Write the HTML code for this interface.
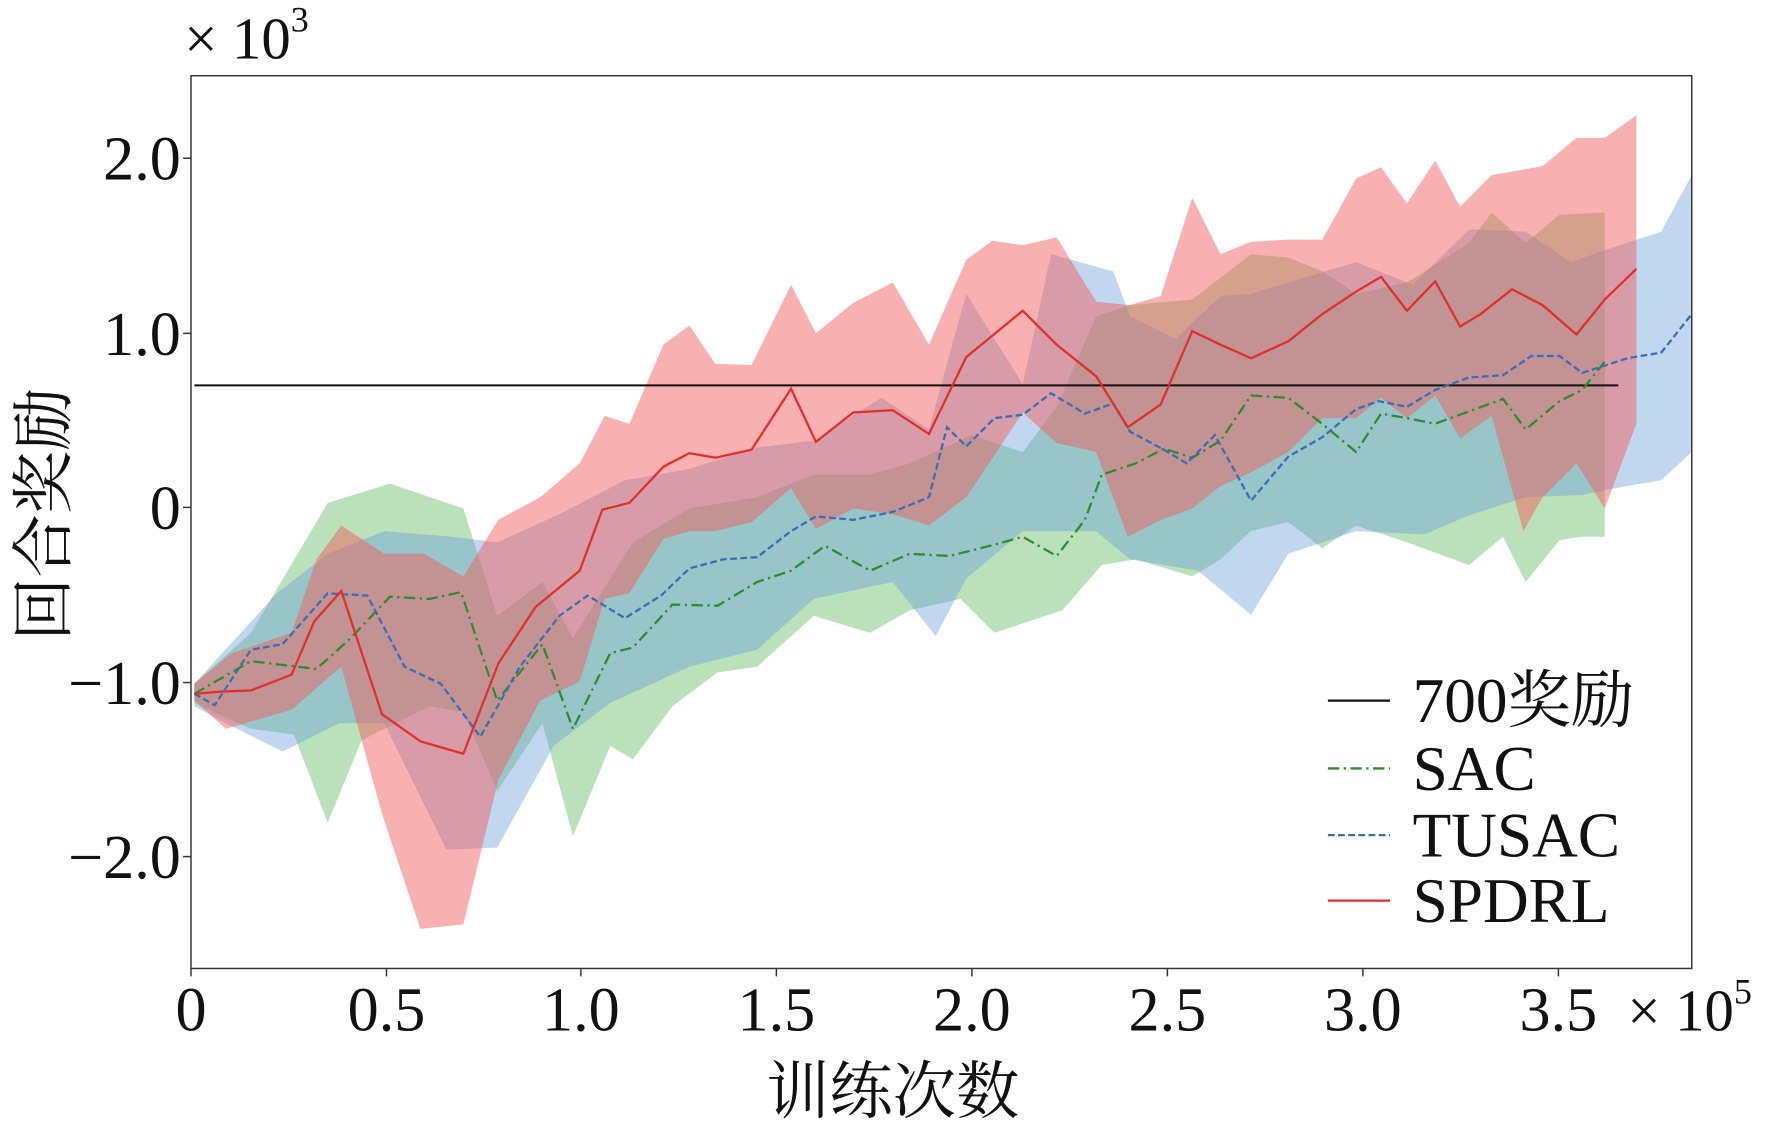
<!DOCTYPE html>
<html><head><meta charset="utf-8"><style>html,body{margin:0;padding:0;background:#fff}svg{display:block}</style></head>
<body>
<svg width="1772" height="1133" viewBox="0 0 1568 1002.6" preserveAspectRatio="none" xmlns="http://www.w3.org/2000/svg" font-family="'Liberation Serif','Noto Serif CJK SC',serif">
<rect width="1568" height="1003" fill="#fff"/>
<defs><clipPath id="c"><rect x="169" y="67" width="1328" height="790"/></clipPath></defs>
<g clip-path="url(#c)">
<polygon fill="#5cb85c" fill-opacity="0.42" points="172,605 222,560 290,445 345,428 410,450 440,545 480,515 507,565 560,480 610,450 670,440 720,420 770,420 805,410 860,385 905,400 935,360 970,280 1000,270 1055,265 1107,225 1140,228 1170,240 1200,260 1245,250 1300,215 1320,188 1350,215 1380,190 1420,188 1420,475 1400,475 1380,478 1350,515 1330,475 1300,500 1245,480 1200,465 1170,485 1140,462 1107,470 1080,495 1055,510 1005,495 975,500 940,540 880,560 850,530 805,540 770,560 720,545 670,590 635,595 595,625 560,672 540,660 507,740 480,640 440,700 410,630 380,625 320,655 290,728 260,650 222,645 172,622"/>
<polygon fill="#6a9fd8" fill-opacity="0.42" points="172,605 245,525 290,490 340,470 400,475 440,480 495,455 553,425 610,415 670,396 720,390 780,352 822,380 855,260 905,340 930,225 985,240 1000,280 1040,300 1080,262 1107,260 1140,250 1200,232 1250,252 1300,203 1350,205 1390,232 1430,218 1470,205 1497,155 1497,400 1470,425 1440,430 1400,438 1350,440 1300,456 1260,473 1200,470 1140,490 1107,544 1060,505 1000,495 970,470 905,470 855,512 828,563 790,515 720,530 670,575 610,590 540,622 490,660 440,750 395,752 340,640 300,640 250,665 200,640 172,625"/>
<polygon fill="#f25a5a" fill-opacity="0.48" points="172,605 205,578 258,560 280,495 302,465 340,490 375,490 410,510 441,460 478,440 513,410 535,368 557,375 587,305 610,288 633,322 665,323 700,252 722,295 755,268 790,250 822,305 855,230 878,213 905,217 935,210 970,267 1000,270 1027,262 1055,175 1080,225 1107,214 1140,212 1170,212 1200,158 1222,148 1245,180 1270,142 1292,183 1320,155 1365,147 1395,122 1420,122 1448,102 1448,375 1420,450 1395,410 1365,440 1348,470 1320,368 1292,388 1270,350 1245,370 1222,352 1200,370 1170,370 1140,400 1107,418 1080,430 1055,450 1027,460 998,475 970,400 935,392 905,365 855,440 822,465 790,455 755,450 722,468 700,432 665,462 633,470 610,470 587,477 557,525 535,530 513,603 478,620 441,690 410,818 372,822 338,720 302,590 258,628 200,645 172,620"/>
<line x1="172" y1="341" x2="1432" y2="341" stroke="#111" stroke-width="1.8"/>
<polyline fill="none" stroke="#2e8b2e" stroke-width="2" stroke-dasharray="10,4,2,4" points="172,614 222,585 280,592 310,565 345,528 380,530 408,524 440,620 480,570 507,645 540,578 560,573 595,535 635,536 670,515 700,505 730,483 770,505 805,490 840,492 880,482 905,475 935,492 960,460 975,420 1005,410 1030,397 1055,405 1080,390 1107,350 1140,352 1170,375 1200,400 1222,366 1245,370 1270,375 1300,364 1330,353 1350,380 1380,355 1400,345 1420,320"/>
<polyline fill="none" stroke="#3a6db5" stroke-width="2" stroke-dasharray="6,3" points="172,614 190,624 222,575 250,570 290,525 325,527 358,590 390,605 425,652 460,590 495,545 520,527 553,547 585,527 610,503 640,495 670,493 700,470 722,457 755,460 790,453 822,440 838,378 855,395 880,370 905,367 930,348 960,366 985,357 1000,382 1030,398 1050,410 1075,385 1107,443 1140,404 1170,387 1200,362 1220,355 1245,360 1270,345 1300,334 1330,332 1355,315 1380,315 1400,330 1440,317 1470,312 1497,278"/>
<polyline fill="none" stroke="#e0302c" stroke-width="2" points="172,614 195,612 222,611 258,597 278,550 302,523 338,632 372,656 410,667 441,587 474,537 513,505 533,451 557,445 587,413 610,401 633,405 665,398 700,344 722,391 755,365 790,363 822,384 855,316 905,275 935,305 970,333 998,378 1027,358 1055,293 1080,305 1107,317 1140,302 1170,278 1200,258 1222,245 1245,275 1270,249 1292,289 1310,278 1338,256 1365,270 1395,296 1420,265 1448,238"/>
</g>
<rect x="1160" y="585" width="270" height="235" fill="#fff"/>
<rect x="169" y="67" width="1328" height="790" fill="none" stroke="#333" stroke-width="1.3"/>
<g stroke="#333" stroke-width="1.3">
<line x1="169" y1="857" x2="169" y2="864"/><line x1="342" y1="857" x2="342" y2="864"/><line x1="514" y1="857" x2="514" y2="864"/><line x1="687" y1="857" x2="687" y2="864"/><line x1="860" y1="857" x2="860" y2="864"/><line x1="1033" y1="857" x2="1033" y2="864"/><line x1="1206" y1="857" x2="1206" y2="864"/><line x1="1379" y1="857" x2="1379" y2="864"/>
<line x1="162" y1="140" x2="169" y2="140"/><line x1="162" y1="295" x2="169" y2="295"/><line x1="162" y1="449" x2="169" y2="449"/><line x1="162" y1="604" x2="169" y2="604"/><line x1="162" y1="758" x2="169" y2="758"/>
</g>
<g font-size="55" fill="#111" text-anchor="middle">
<text x="169" y="912">0</text><text x="342" y="912">0.5</text><text x="514" y="912">1.0</text><text x="687" y="912">1.5</text><text x="860" y="912">2.0</text><text x="1033" y="912">2.5</text><text x="1206" y="912">3.0</text><text x="1379" y="912">3.5</text>
</g>
<g font-size="55" fill="#111" text-anchor="end">
<text x="160" y="159">2.0</text><text x="160" y="314">1.0</text><text x="160" y="468">0</text><text x="160" y="623">−1.0</text><text x="160" y="777">−2.0</text>
</g>
<text x="163" y="52" font-size="52" fill="#111">× 10<tspan font-size="32" dy="-24">3</tspan></text>
<text x="1440" y="912" font-size="52" fill="#111">× 10<tspan font-size="32" dy="-24">5</tspan></text>
<text x="790" y="985" font-size="56" fill="#111" text-anchor="middle">训练次数</text>
<text transform="translate(58,455) rotate(-90)" font-size="56" fill="#111" text-anchor="middle">回合奖励</text>
<g font-size="56" fill="#111">
<line x1="1175" y1="620" x2="1230" y2="620" stroke="#111" stroke-width="2"/><text x="1250" y="639">700奖励</text>
<line x1="1175" y1="680" x2="1230" y2="680" stroke="#2e8b2e" stroke-width="2" stroke-dasharray="10,4,2,4"/><text x="1250" y="699">SAC</text>
<line x1="1175" y1="739" x2="1230" y2="739" stroke="#3a6db5" stroke-width="2" stroke-dasharray="6,3"/><text x="1250" y="758">TUSAC</text>
<line x1="1175" y1="797" x2="1230" y2="797" stroke="#e0302c" stroke-width="2"/><text x="1250" y="816">SPDRL</text>
</g>
</svg>
</body></html>
